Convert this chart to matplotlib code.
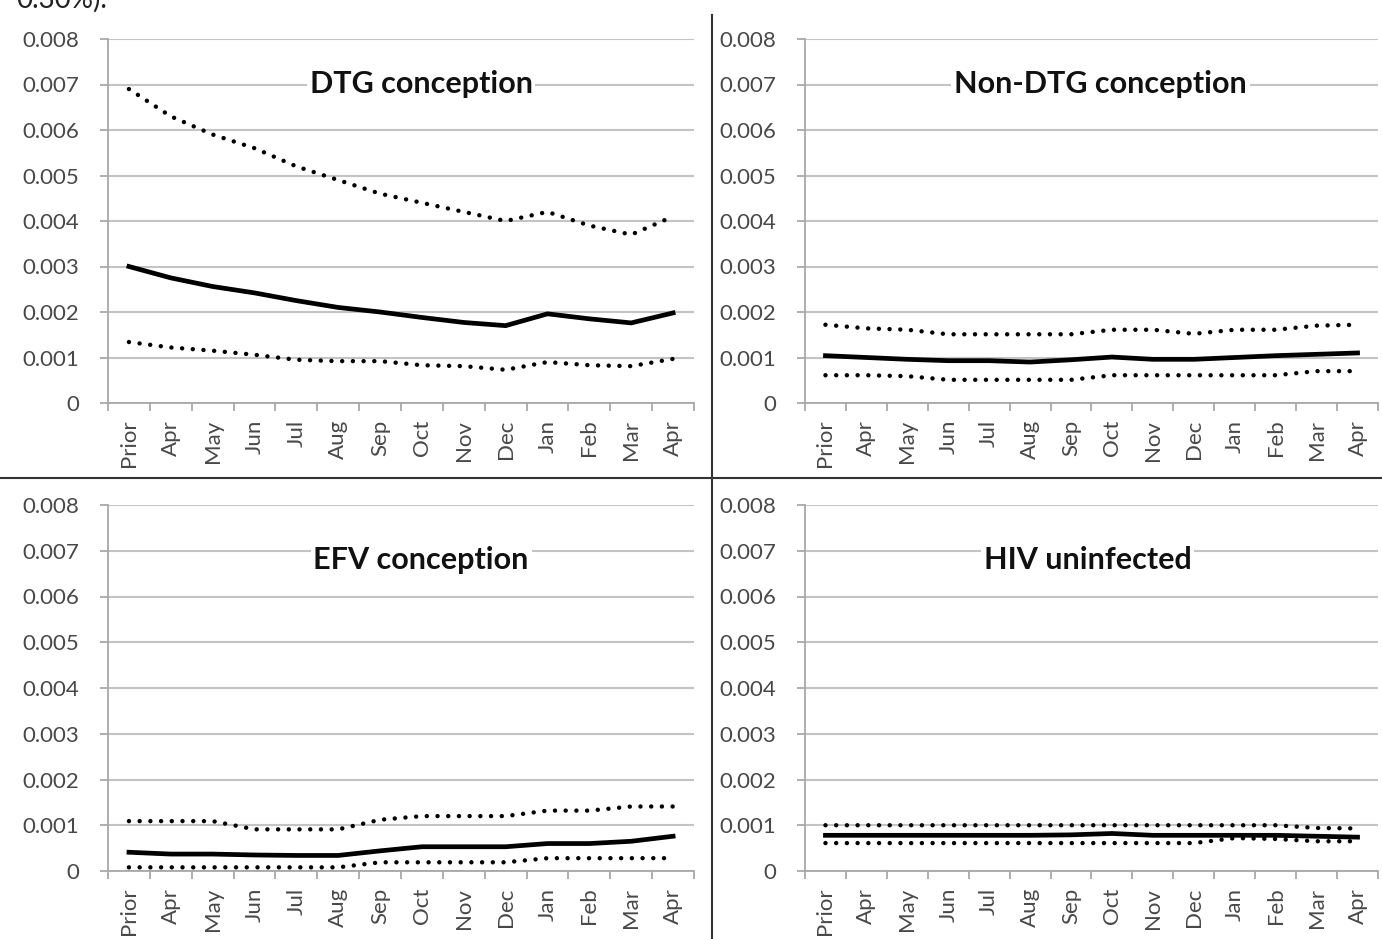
import matplotlib
matplotlib.use("Agg")
import matplotlib.pyplot as plt
from matplotlib.ticker import FixedLocator, MultipleLocator, FuncFormatter

plt.rcParams['font.family'] = ['Lato', 'DejaVu Sans']

months = ["Prior", "Apr", "May", "Jun", "Jul", "Aug", "Sep", "Oct",
          "Nov", "Dec", "Jan", "Feb", "Mar", "Apr"]

# DTG conception
dtg_est = [0.0030, 0.00275, 0.00256, 0.00242, 0.00225, 0.0021, 0.0020, 0.00188,
           0.00177, 0.0017, 0.00196, 0.00185, 0.00176, 0.00198]
dtg_hi = [0.0069, 0.0063, 0.0059, 0.0056, 0.0052, 0.0049, 0.0046, 0.0044,
          0.0042, 0.0040, 0.0042, 0.0039, 0.0037, 0.0041]
dtg_lo = [0.00134, 0.00122, 0.00115, 0.00106, 0.00095, 0.00092, 0.00092, 0.00083,
          0.00081, 0.00073, 0.0009, 0.00083, 0.00081, 0.00097]

# Non-DTG conception
nondtg_est = [0.00104, 0.0010, 0.00096, 0.00093, 0.00093, 0.0009, 0.00095, 0.00101,
              0.00096, 0.00096, 0.0010, 0.00104, 0.00107, 0.0011]
nondtg_hi = [0.00172, 0.00164, 0.00161, 0.00151, 0.00151, 0.00151, 0.00151, 0.00161,
             0.00161, 0.00152, 0.00161, 0.00161, 0.0017, 0.00172]
nondtg_lo = [0.00061, 0.00061, 0.00059, 0.00051, 0.00051, 0.00051, 0.00051, 0.00061,
             0.00061, 0.00061, 0.00061, 0.00061, 0.0007, 0.0007]

# EFV conception
efv_est = [0.00041, 0.00037, 0.00037, 0.00035, 0.00034, 0.00034, 0.00044, 0.00053,
           0.00053, 0.00053, 0.0006, 0.0006, 0.00065, 0.00076]
efv_hi = [0.00109, 0.00109, 0.00109, 0.00091, 0.00091, 0.00091, 0.00112, 0.0012,
          0.0012, 0.0012, 0.00132, 0.00132, 0.00141, 0.00141]
efv_lo = [0.00008, 0.00008, 0.00008, 0.00008, 0.00008, 0.00008, 0.00019, 0.00019,
          0.00019, 0.00019, 0.00028, 0.00028, 0.00028, 0.00028]

# HIV uninfected
hiv_est = [0.00078, 0.00078, 0.00078, 0.00078, 0.00078, 0.00078, 0.00079, 0.00082,
           0.00078, 0.00078, 0.00078, 0.00078, 0.00076, 0.00074]
hiv_hi = [0.0010, 0.0010, 0.0010, 0.0010, 0.0010, 0.0010, 0.0010, 0.0010,
          0.0010, 0.0010, 0.0010, 0.0010, 0.00094, 0.00093]
hiv_lo = [0.00061, 0.00061, 0.00061, 0.00061, 0.00061, 0.00061, 0.00061, 0.00061,
          0.00061, 0.00061, 0.00072, 0.0007, 0.00065, 0.00065]

W, H = 1382, 939
fig = plt.figure(figsize=(W / 100, H / 100), dpi=100)

GRID = "#c4c4c4"
AXIS = "#a8a8a8"
LABEL = "#484848"


def px_axes(x0, x1, ytop, ybot):
    return fig.add_axes([x0 / W, 1 - ybot / H, (x1 - x0) / W, (ybot - ytop) / H])


def fmt(v, _):
    return "0" if abs(v) < 1e-12 else f"{v:.3f}"


def draw_panel(ax, est, hi, lo, title, tx, ty):
    x = range(len(months))
    ax.set_xlim(-0.5, len(months) - 0.5)
    ax.set_ylim(0, 0.008)
    ax.yaxis.set_major_locator(MultipleLocator(0.001))
    ax.yaxis.set_major_formatter(FuncFormatter(fmt))
    ax.grid(axis="y", color=GRID, linewidth=1.5, zorder=0)
    ax.set_axisbelow(True)
    for s in ["top", "right"]:
        ax.spines[s].set_visible(False)
    ax.spines["left"].set_color(AXIS)
    ax.spines["bottom"].set_color(AXIS)
    ax.spines["left"].set_linewidth(1.3)
    ax.spines["bottom"].set_linewidth(1.3)

    ax.set_xticks(list(x))
    ax.set_xticklabels(months, rotation=90, fontsize=16, color=LABEL)
    ax.xaxis.set_minor_locator(FixedLocator([i - 0.5 for i in range(len(months) + 1)]))
    ax.tick_params(axis="x", which="major", length=0, pad=12)
    ax.tick_params(axis="x", which="minor", length=6, width=1.3, color=AXIS)
    ax.tick_params(axis="y", length=6, width=1.3, color=AXIS, labelsize=16,
                   labelcolor=LABEL, pad=15)

    dots = dict(color="black", linewidth=3.2, linestyle=(0, (0.01, 2.4)),
                dash_capstyle="round", zorder=3)
    ax.plot(x, hi, **dots)
    ax.plot(x, lo, **dots)
    ax.plot(x, est, color="black", linewidth=3.4, zorder=4,
            solid_joinstyle="round")

    ax.text(tx, ty, title, transform=ax.transData,
            ha="center", va="center", fontsize=22, fontweight="bold", color="#111111",
            bbox=dict(facecolor="white", edgecolor="none", pad=2), zorder=5)


ax1 = px_axes(108, 694, 39, 403)
draw_panel(ax1, dtg_est, dtg_hi, dtg_lo, "DTG conception", 6.98, 0.007)

ax2 = px_axes(805, 1378, 39, 403)
draw_panel(ax2, nondtg_est, nondtg_hi, nondtg_lo, "Non-DTG conception", 6.72, 0.007)

ax3 = px_axes(108, 694, 505, 871)
draw_panel(ax3, efv_est, efv_hi, efv_lo, "EFV conception", 6.98, 0.0068)

ax4 = px_axes(805, 1378, 505, 871)
draw_panel(ax4, hiv_est, hiv_hi, hiv_lo, "HIV uninfected", 6.4, 0.0068)

# quadrant separators
fig.add_artist(plt.Line2D([712 / W, 712 / W], [0, 1 - 15 / H], color="#333333", linewidth=1.5))
fig.add_artist(plt.Line2D([0, 1], [1 - 478 / H, 1 - 478 / H], color="#333333", linewidth=1.5))

# text from the surrounding page, cut off at the top as in the source image
fig.text(0.012, 1 - 8 / H, "0.30%).", fontsize=20, color="#222222", va="baseline")

fig.savefig("out.png", dpi=100, facecolor="white")
